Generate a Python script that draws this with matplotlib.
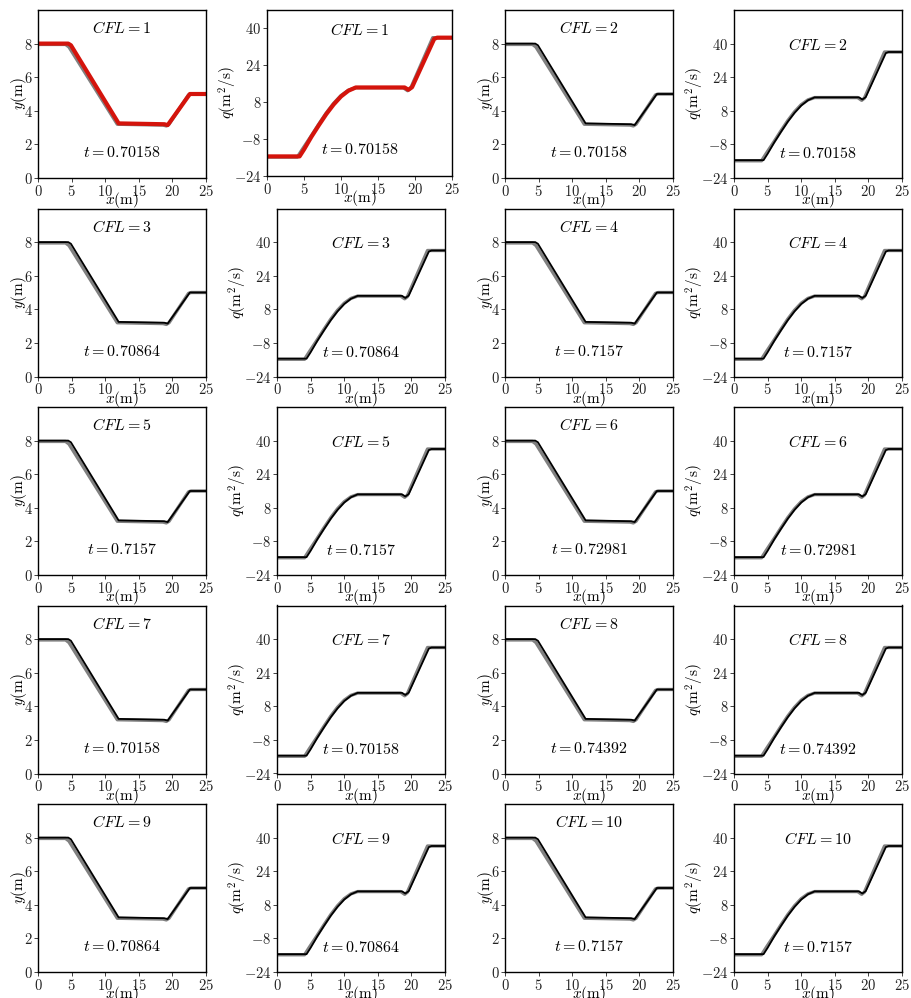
import numpy as np
import matplotlib
matplotlib.use("Agg")
import matplotlib.pyplot as plt

plt.rcParams['font.family'] = 'serif'
plt.rcParams['font.serif'] = ['cmr10']
plt.rcParams['mathtext.fontset'] = 'cm'
plt.rcParams['axes.formatter.use_mathtext'] = True

# Werte
cfl_values = [1, 2, 3, 4, 5, 6, 7, 8, 9, 10]
t_values = ["0.70158", "0.70158", "0.70864", "0.7157", "0.7157",
            "0.72981", "0.70158", "0.74392", "0.70864", "0.7157"]

# Wassertiefe (exakt)
depth_x = [0, 4.5, 4.9, 12.0, 18.8, 19.3, 22.6, 25]
depth_y = [8.0, 8.0, 7.9, 3.25, 3.2, 3.15, 5.0, 5.0]
# Wassertiefe (numerisch)
depth_num_x = [0, 4.1, 4.6, 11.8, 18.6, 19.1, 19.5, 22.4, 22.8, 25]
depth_num_y = [7.95, 7.95, 7.8, 3.2, 3.15, 3.1, 3.2, 4.95, 5.0, 5.0]

# Abfluss (exakt)
q_x = [0, 4.4, 5.0, 6, 7, 8, 9, 10, 11, 12, 18.6, 19.1, 19.6, 22.6, 23.0, 25]
q_y = [-15.5, -15.5, -12.5, -7, -2, 2.8, 7, 10.5, 13, 14.4, 14.4, 13.4, 14.5, 35.5, 36, 36]
# Abfluss (numerisch)
q_num_x = [0, 4.1, 4.8, 6, 7, 8, 9, 10, 11, 12, 18.4, 19.0, 19.4, 22.4, 25]
q_num_y = [-15.8, -15.8, -12.3, -6.5, -1.5, 3.3, 7.5, 10.9, 13.2, 14.3, 14.3, 13.0, 14.0, 36, 36]

W, H = 912, 998
fig = plt.figure(figsize=(W / 100, H / 100), dpi=100)

col_left = [38, 277, 505, 734]
row_top = [10, 208.5, 407, 605.5, 804]
size = 168


def make_axes(left, top, w, h):
    return fig.add_axes([left / W, 1 - (top + h) / H, w / W, h / H])


for r in range(5):
    for c in range(4):
        k = 2 * r + c // 2
        is_q = c % 2 == 1
        if r == 0 and c == 1:
            ax = make_axes(267, 10, 185, 166)
        else:
            ax = make_axes(col_left[c], row_top[r], size, size)

        if is_q:
            ax.plot(q_num_x, q_num_y, color='#808080', lw=2.4)
            ax.plot(q_x, q_y, color='black', lw=1.3)
            if k == 0:
                ax.plot(q_x, q_y, color='#d4140c', lw=3)
            ax.set_ylim(-24, 48 if (r == 0 and c == 1) else 56)
            ax.set_yticks([-24, -8, 8, 24, 40])
            ax.set_ylabel(r'$q(\mathrm{m}^2/\mathrm{s})$', fontsize=11, labelpad=-4)
            ytxt_cfl, ytxt_t = 39.5, -12.5
        else:
            ax.plot(depth_num_x, depth_num_y, color='#808080', lw=2.4)
            ax.plot(depth_x, depth_y, color='black', lw=1.3)
            if k == 0:
                ax.plot(depth_x, depth_y, color='#d4140c', lw=3)
            ax.set_ylim(0, 10)
            ax.set_yticks([0, 2, 4, 6, 8])
            ax.set_ylabel(r'$y(\mathrm{m})$', fontsize=11, labelpad=-4)
            ytxt_cfl, ytxt_t = 8.9, 1.5

        ax.set_xlim(0, 25)
        ax.set_xticks([0, 5, 10, 15, 20, 25])
        ax.set_xlabel(r'$x(\mathrm{m})$', fontsize=11, labelpad=-6)
        ax.tick_params(labelsize=10.5, length=3, width=0.6, pad=1, colors='#222222')
        for s in ax.spines.values():
            s.set_linewidth(1.0)

        ax.text(12.5, ytxt_cfl, r'$CFL = %d$' % cfl_values[k], ha='center', va='center', fontsize=11.5)
        ax.text(12.5, ytxt_t, r'$t = %s$' % t_values[k], ha='center', va='center', fontsize=11.5)

fig.savefig('out.png', dpi=100)
